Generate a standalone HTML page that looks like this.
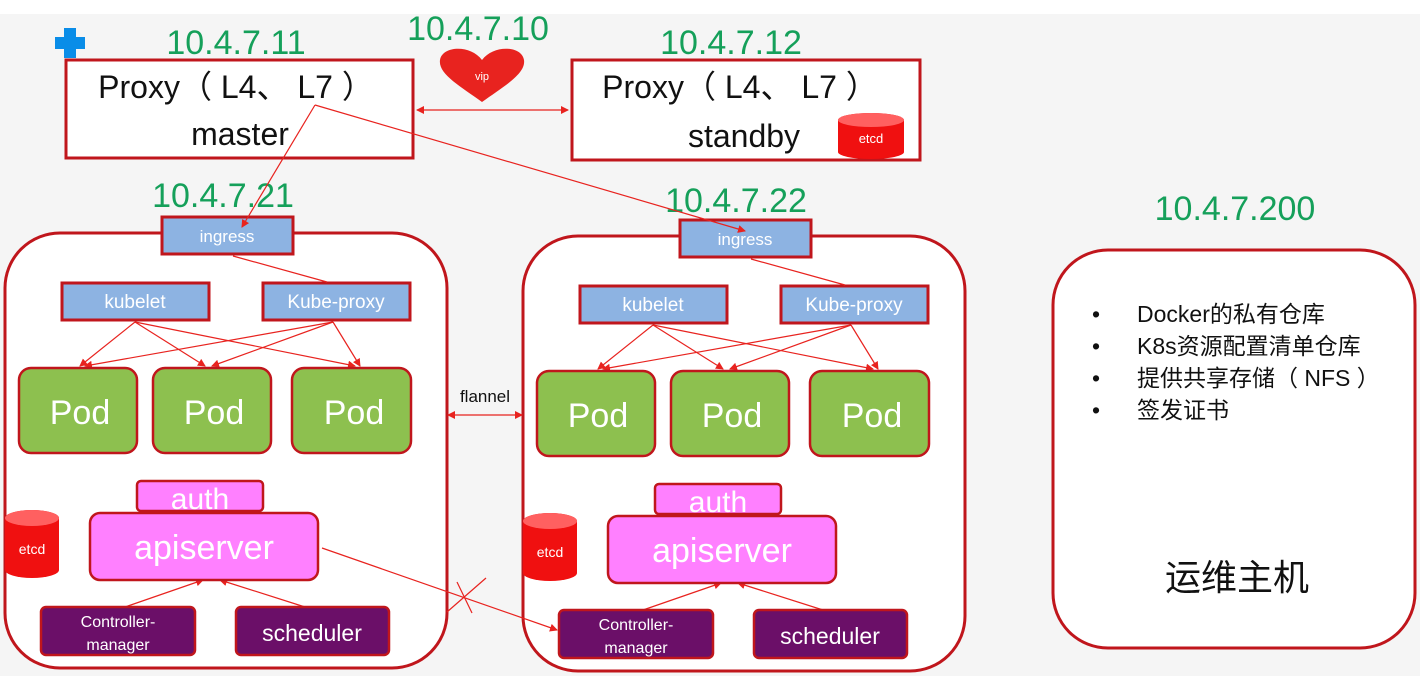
<!DOCTYPE html>
<html><head><meta charset="utf-8"><style>
html,body{margin:0;padding:0;background:#f5f5f5}
svg{display:block}
text{font-family:"Liberation Sans","Noto Sans CJK SC",sans-serif}
</style></head><body>
<svg width="1420" height="676" viewBox="0 0 1420 676" xmlns="http://www.w3.org/2000/svg">
<defs>
<marker id="ah" markerWidth="8" markerHeight="8" refX="7" refY="4" orient="auto" markerUnits="userSpaceOnUse"><path d="M0,0 L8,4 L0,8 z" fill="#e8231f"/></marker>
<marker id="as" markerWidth="8" markerHeight="8" refX="1" refY="4" orient="auto" markerUnits="userSpaceOnUse"><path d="M8,0 L0,4 L8,8 z" fill="#e8231f"/></marker>
<g id="node">
<rect x="5" y="233" width="442" height="435" rx="55" fill="#fff" stroke="#c0161c" stroke-width="3"/>
<rect x="162" y="217" width="131" height="37" fill="#8db3e2" stroke="#c0161c" stroke-width="3"/>
<text x="227" y="242" font-size="17" fill="#fff" text-anchor="middle">ingress</text>
<rect x="62" y="283" width="147" height="37" fill="#8db3e2" stroke="#c0161c" stroke-width="3"/>
<text x="135" y="308" font-size="19" fill="#fff" text-anchor="middle">kubelet</text>
<rect x="263" y="283" width="147" height="37" fill="#8db3e2" stroke="#c0161c" stroke-width="3"/>
<text x="336" y="308" font-size="19" fill="#fff" text-anchor="middle">Kube-proxy</text>
<g stroke="#e8231f" stroke-width="1.2" fill="none">
<line x1="233" y1="256" x2="327" y2="282"/>
<line x1="135" y1="322" x2="80" y2="366" marker-end="url(#ah)"/>
<line x1="135" y1="322" x2="205" y2="366" marker-end="url(#ah)"/>
<line x1="135" y1="322" x2="355" y2="366" marker-end="url(#ah)"/>
<line x1="333" y1="322" x2="85" y2="366" marker-end="url(#ah)"/>
<line x1="333" y1="322" x2="212" y2="366" marker-end="url(#ah)"/>
<line x1="333" y1="322" x2="360" y2="366" marker-end="url(#ah)"/>
<line x1="125" y1="607" x2="203" y2="580" marker-end="url(#ah)"/>
<line x1="305" y1="607" x2="220" y2="580" marker-end="url(#ah)"/>
</g>
<rect x="19" y="368" width="118" height="85" rx="12" fill="#8dc04f" stroke="#c0161c" stroke-width="2.5"/>
<rect x="153" y="368" width="118" height="85" rx="12" fill="#8dc04f" stroke="#c0161c" stroke-width="2.5"/>
<rect x="292" y="368" width="119" height="85" rx="12" fill="#8dc04f" stroke="#c0161c" stroke-width="2.5"/>
<text x="80" y="424" font-size="34" fill="#fff" text-anchor="middle">Pod</text>
<text x="214" y="424" font-size="34" fill="#fff" text-anchor="middle">Pod</text>
<text x="354" y="424" font-size="34" fill="#fff" text-anchor="middle">Pod</text>
<rect x="137" y="481" width="126" height="30" rx="4" fill="#ff80ff" stroke="#c0161c" stroke-width="2.5"/>
<text x="200" y="509" font-size="30" fill="#fff" text-anchor="middle">auth</text>
<rect x="90" y="513" width="228" height="67" rx="10" fill="#ff80ff" stroke="#c0161c" stroke-width="2.5"/>
<text x="204" y="559" font-size="34" fill="#fff" text-anchor="middle">apiserver</text>
<path d="M5,518 a27,8 0 0 1 54,0 v52 a27,8 0 0 1 -54,0 z" fill="#f01010"/>
<ellipse cx="32" cy="518" rx="27" ry="8" fill="#ff6060"/>
<text x="32" y="554" font-size="14" fill="#fff" text-anchor="middle">etcd</text>
<rect x="41" y="607" width="154" height="48" rx="5" fill="#6b0f68" stroke="#c0161c" stroke-width="2.5"/>
<text x="118" y="627" font-size="16" fill="#fff" text-anchor="middle">Controller-</text>
<text x="118" y="650" font-size="16" fill="#fff" text-anchor="middle">manager</text>
<rect x="236" y="607" width="153" height="48" rx="5" fill="#6b0f68" stroke="#c0161c" stroke-width="2.5"/>
<text x="312" y="641" font-size="23" fill="#fff" text-anchor="middle">scheduler</text>
</g>
</defs>
<rect x="0" y="0" width="1420" height="14" fill="#fff"/>
<path d="M64,28 h12 v9 h9 v12 h-9 v9 h-12 v-9 h-9 v-12 h9 z" fill="#0a8de8"/>
<g font-size="34" fill="#15a05a" text-anchor="middle">
<text x="236" y="54">10.4.7.11</text>
<text x="478" y="40">10.4.7.10</text>
<text x="731" y="54">10.4.7.12</text>
<text x="223" y="207">10.4.7.21</text>
<text x="736" y="212">10.4.7.22</text>
<text x="1235" y="220">10.4.7.200</text>
</g>
<rect x="66" y="60" width="347" height="98" fill="#fff" stroke="#c0161c" stroke-width="3"/>
<text x="236" y="98" font-size="32" fill="#111" text-anchor="middle">Proxy（ L4、 L7 ）</text>
<text x="240" y="145" font-size="32" fill="#111" text-anchor="middle">master</text>
<rect x="572" y="60" width="348" height="100" fill="#fff" stroke="#c0161c" stroke-width="3"/>
<text x="740" y="98" font-size="32" fill="#111" text-anchor="middle">Proxy（ L4、 L7 ）</text>
<text x="744" y="147" font-size="32" fill="#111" text-anchor="middle">standby</text>
<path d="M838,120 a33,7 0 0 1 66,0 v32 a33,7 0 0 1 -66,0 z" fill="#f01010"/>
<ellipse cx="871" cy="120" rx="33" ry="7" fill="#ff6060"/>
<text x="871" y="143" font-size="13" fill="#fff" text-anchor="middle">etcd</text>
<path d="M482,102 C460,86 438,74 440,60 C442,46 470,44 482,60 C494,44 522,46 524,60 C526,74 504,86 482,102 z" fill="#e8231f"/>
<text x="482" y="80" font-size="11" fill="#fff" text-anchor="middle">vip</text>
<use href="#node"/>
<use href="#node" transform="translate(518,3)"/>
<g stroke="#e8231f" stroke-width="1.2" fill="none">
<line x1="417" y1="110" x2="568" y2="110" marker-start="url(#as)" marker-end="url(#ah)"/>
<line x1="315" y1="105" x2="242" y2="227" marker-end="url(#ah)"/>
<line x1="315" y1="105" x2="745" y2="231" marker-end="url(#ah)"/>
<line x1="448" y1="415" x2="522" y2="415" marker-start="url(#as)" marker-end="url(#ah)"/>
<line x1="322" y1="548" x2="557" y2="630" marker-end="url(#ah)"/>
<line x1="447" y1="612" x2="486" y2="578"/>
<line x1="457" y1="582" x2="472" y2="613"/>
</g>
<text x="485" y="402" font-size="17" fill="#111" text-anchor="middle">flannel</text>
<rect x="1053" y="250" width="362" height="398" rx="55" fill="#fff" stroke="#c0161c" stroke-width="3"/>
<g font-size="23" fill="#111">
<text x="1092" y="322">•</text><text x="1137" y="322">Docker的私有仓库</text>
<text x="1092" y="354">•</text><text x="1137" y="354">K8s资源配置清单仓库</text>
<text x="1092" y="386">•</text><text x="1137" y="386">提供共享存储（ NFS ）</text>
<text x="1092" y="418">•</text><text x="1137" y="418">签发证书</text>
</g>
<text x="1237" y="590" font-size="36" fill="#111" text-anchor="middle">运维主机</text>
</svg>
</body></html>
